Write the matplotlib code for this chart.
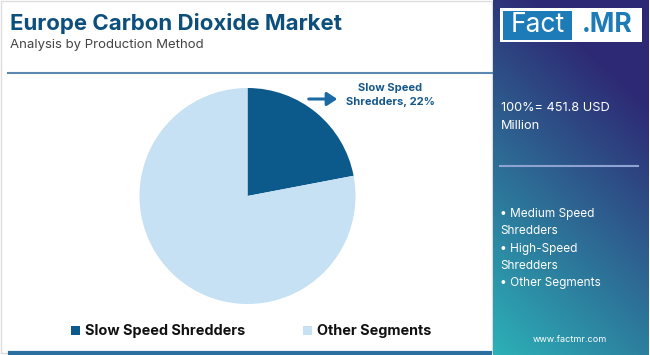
import numpy as np
import matplotlib
matplotlib.use("Agg")
import matplotlib.pyplot as plt
from matplotlib.patches import Rectangle

plt.rcParams['font.family'] = ['Inter', 'DejaVu Sans']

# data
segments = ['Slow Speed Shredders', 'Other Segments']
shares = [22, 78]
colors = ['#0c5a8c', '#c5e1f3']
total_text = '100%= 451.8 USD\nMillion'
other_list = ['• Medium Speed', 'Shredders', '• High-Speed', 'Shredders', '• Other Segments']

W, H = 650, 355
fig = plt.figure(figsize=(W / 100, H / 100), dpi=100)
fig.patch.set_facecolor('white')

# background layer in pixel coords (y from top)
bg = fig.add_axes([0, 0, 1, 1])
bg.set_xlim(0, W)
bg.set_ylim(H, 0)
bg.axis('off')

# left card border
bg.add_patch(Rectangle((1, 1), 491, 352, fill=False, edgecolor='#dddddd', lw=1))
bg.plot([8, 492], [73, 73], color='#5b88b0', lw=1.5)
bg.plot([10, 490], [352.5, 352.5], color='#2a6f9f', lw=3)

# right gradient panel
ny, nx = 200, 100
yy, xx = np.mgrid[0:1:ny * 1j, 0:1:nx * 1j]
t = np.clip(yy * 0.85 - xx * 0.35 + 0.1, 0, 1)
top = np.array([0x2e, 0x29, 0x74]) / 255
bot = np.array([0x2c, 0xb8, 0xbb]) / 255
img = top[None, None, :] * (1 - t[..., None]) + bot[None, None, :] * t[..., None]
bg.imshow(img, extent=[493, 649, H, 0], aspect='auto', zorder=1)

# logo
bg.add_patch(Rectangle((500, 8), 142, 34, facecolor='white', edgecolor='none', zorder=2))
bg.add_patch(Rectangle((503, 10.5), 69, 29, facecolor='#1d7bb8', edgecolor='none', zorder=3))
bg.text(537.5, 25.5, 'Fact', color='white', fontsize=19, ha='center', va='center', zorder=4)
bg.text(607, 25.5, '.MR', color='#1d7bb8', fontsize=19, fontweight='bold', ha='center', va='center', zorder=4)

# right panel text
bg.text(501, 117, total_text, color='white', fontsize=9.2, ha='left', va='center',
        linespacing=1.75, zorder=4)
bg.plot([500, 638], [166, 166], color='#8fa3d3', lw=1.5, zorder=4)
for i, line in enumerate(other_list):
    bg.text(500, 214 + i * 17.3, line, color='white', fontsize=8.5, ha='left', va='center', zorder=4)
bg.text(570, 340, 'www.factmr.com', color='white', fontsize=6.5, ha='center', va='center', zorder=4)

# titles
bg.text(10, 24, 'Europe Carbon Dioxide Market', color='#0d4f7c', fontsize=16,
        fontweight='bold', ha='left', va='center')
bg.text(10, 45, 'Analysis by Production Method', color='#444444', fontsize=9.5,
        ha='left', va='center')

# legend
lx = [71, 303]
for x0, seg, c in zip(lx, segments, colors):
    bg.add_patch(Rectangle((x0, 326), 9, 9, facecolor=c, edgecolor='none'))
    bg.text(x0 + 14, 330.5, seg, color='#111111', fontsize=10.4, fontweight='bold',
            ha='left', va='center')

# pie
cx, cy, r = 247.5, 196, 108
ax = fig.add_axes([(cx - r) / W, 1 - (cy + r) / H, 2 * r / W, 2 * r / H])
ax.pie(shares, colors=colors, startangle=90, counterclock=False,
       wedgeprops=dict(linewidth=0))
ax.set_aspect('auto')
ax.set_xlim(-1, 1)
ax.set_ylim(-1, 1)

# annotation
bg.annotate('', xy=(340, 99), xytext=(306, 99),
            arrowprops=dict(arrowstyle='-|>,head_length=0.6,head_width=0.4', color='#1c6aa3', lw=2.2))
bg.text(390, 95, 'Slow Speed\nShredders, %d%%' % shares[0], color='#16588b', fontsize=8,
        fontweight='bold', ha='center', va='center', linespacing=1.5)

fig.savefig('out.png', dpi=100)
